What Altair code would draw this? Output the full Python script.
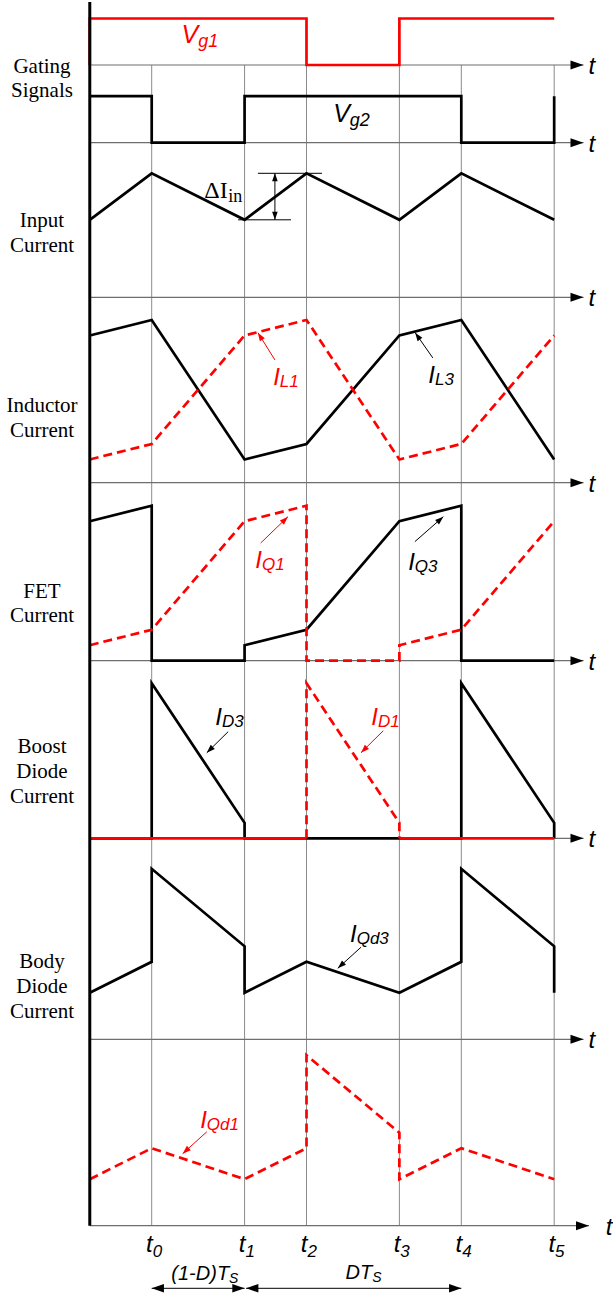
import math
import altair as alt
import pandas as pd

# ---------------- signal data ----------------
# switching instants t0..t5, in units of the switching period Ts
T_SUBS = ["0", "1", "2", "3", "4", "5"]
T_VALS = [0.0, 0.3, 0.5, 0.8, 1.0, 1.3]
T_START = -0.2

# gating signals (0 = off, 1 = on)
vg1_t = [-0.2, -0.2, 0.5, 0.5, 0.8, 0.8, 1.3]
vg1_v = [0, 1, 1, 0, 0, 1, 1]
vg2_t = [-0.2, 0.0, 0.0, 0.3, 0.3, 1.0, 1.0, 1.3, 1.3]
vg2_v = [1, 1, 0, 0, 1, 1, 0, 0, 1]

# input current
iin_t = [-0.2, 0.0, 0.3, 0.5, 0.8, 1.0, 1.3]
iin_v = [5, 8, 5, 8, 5, 8, 5]

# inductor currents
il_t = [-0.2, 0.0, 0.3, 0.5, 0.8, 1.0, 1.3]
il3_v = [9.5, 10.5, 1.5, 2.5, 9.5, 10.5, 1.5]
il1_v = [1.5, 2.5, 9.5, 10.5, 1.5, 2.5, 9.5]

# FET currents
iq3_t = [-0.2, 0.0, 0.0, 0.3, 0.3, 0.5, 0.8, 1.0, 1.0, 1.3]
iq3_v = [9, 10, 0, 0, 1, 2, 9, 10, 0, 0]
iq1_t = [-0.2, 0.0, 0.3, 0.5, 0.5, 0.8, 0.8, 1.0, 1.3]
iq1_v = [1, 2, 9, 10, 0, 0, 1, 2, 9]

# boost diode currents
id3_t = [-0.2, 0.0, 0.0, 0.3, 0.3, 1.0, 1.0, 1.3, 1.3]
id3_v = [0, 0, 10, 1, 0, 0, 10, 1, 0]
id1_t = [-0.2, 0.5, 0.5, 0.8, 0.8, 1.3]
id1_v = [0, 0, 10, 1, 0, 0]

# body diode currents
iqd3_t = [-0.2, 0.0, 0.0, 0.3, 0.3, 0.5, 0.8, 1.0, 1.0, 1.3, 1.3]
iqd3_v = [3, 5, 11, 6, 3, 5, 3, 5, 11, 6, 3]
iqd1_t = [-0.2, 0.0, 0.3, 0.5, 0.5, 0.8, 0.8, 1.0, 1.3]
iqd1_v = [3, 5, 3, 5, 11, 6, 3, 5, 3]

# ---------------- layout ----------------
W, H = 613, 1296
PX_PER_T = 309.6
T0_PX = 151.7
X_DOMAIN = [-T0_PX / PX_PER_T, (W - T0_PX) / PX_PER_T]

# baseline row of every time axis and pixels per signal unit
BASE = {"vg1": 65.0, "vg2": 142.7, "iin": 297.3, "il": 482.7, "iq": 660.7,
        "id": 838.3, "iqd3": 1039.3, "iqd1": 1225.7}
UNIT = {k: 15.5 for k in BASE}
UNIT["vg1"] = 46.5
UNIT["vg2"] = 46.5

RED = "#ff0000"
BLACK = "#000000"
GRID = "#8a8a8a"
SANS = "Liberation Sans"
SERIF = "Liberation Serif"
ARROW = "M0,0L-0.7,2L0.7,2Z"


def row(panel, v):
    return BASE[panel] - v * UNIT[panel]


xs = alt.Scale(domain=X_DOMAIN, nice=False, zero=False)
ys = alt.Scale(domain=[0, H], reverse=True, nice=False, zero=False)


def X(f="t"):
    return alt.X(f"{f}:Q", scale=xs, axis=None)


def Y(f="row"):
    return alt.Y(f"{f}:Q", scale=ys, axis=None)


# ---------------- waveforms ----------------
line_pts = []


def add_trace(name, panel, ts, vs, style):
    for i, (t, v) in enumerate(zip(ts, vs)):
        line_pts.append(dict(series=name, i=i, t=t, row=row(panel, v), style=style))


add_trace("vg1", "vg1", vg1_t, vg1_v, "red")
add_trace("vg2", "vg2", vg2_t, vg2_v, "black")
add_trace("iin", "iin", iin_t, iin_v, "black")
add_trace("il3", "il", il_t, il3_v, "black")
add_trace("il1", "il", il_t, il1_v, "dash")
add_trace("iq3", "iq", iq3_t, iq3_v, "black")
add_trace("iq1", "iq", iq1_t, iq1_v, "dash")
add_trace("id3", "id", id3_t, id3_v, "black")
add_trace("iqd3", "iqd3", iqd3_t, iqd3_v, "black")
add_trace("iqd1", "iqd1", iqd1_t, iqd1_v, "dash")

# D1 current: zero stretches solid, conduction interval dashed
runs = []
for k in range(len(id1_t) - 1):
    flat = id1_v[k] == 0 and id1_v[k + 1] == 0
    kind = "red" if flat else "dash"
    if runs and runs[-1][0] == kind:
        runs[-1][1].append(k + 1)
    else:
        runs.append([kind, [k, k + 1]])
for n, (kind, idx) in enumerate(runs):
    add_trace(f"id1_{n}", "id", [id1_t[j] for j in idx], [id1_v[j] for j in idx], kind)

lines = pd.DataFrame(line_pts)


def line_layer(style, color, dash=None):
    kw = dict(color=color, strokeWidth=2.7, strokeJoin="miter", strokeCap="butt")
    if dash:
        kw["strokeDash"] = dash
    return alt.Chart(lines[lines["style"] == style]).mark_line(**kw).encode(
        x=X(), y=Y(), detail="series:N", order="i:Q")


# ---------------- axes and grid ----------------
last_row = BASE["iqd1"]
grid = pd.DataFrame({"t": T_VALS, "row": [BASE["vg1"]] * 6, "row2": [last_row] * 6})

axis_keys = list(BASE.keys())
tip_t = [1.3947] * (len(axis_keys) - 1) + [1.4125]
axes = pd.DataFrame({"t": [T_START] * len(axis_keys), "t2": tip_t,
                     "row": [BASE[k] for k in axis_keys]})
axis_t_lbl = pd.DataFrame({"t": [1.422] * (len(axis_keys) - 1) + [1.477],
                           "row": [BASE[k] + 2 for k in axis_keys],
                           "text": ["t"] * len(axis_keys)})
spine = pd.DataFrame({"t": [T_START], "row": [2.0], "row2": [last_row]})

# ---------------- pointers and dimension arrows ----------------
pointers = [
    ("il", 0.398, 7.92, 0.343, 9.68, RED),
    ("il", 0.908, 8.05, 0.851, 9.68, BLACK),
    ("iq", 0.352, 7.59, 0.440, 9.29, RED),
    ("iq", 0.850, 7.68, 0.942, 9.29, BLACK),
    ("id", 0.247, 6.88, 0.178, 5.52, BLACK),
    ("id", 0.748, 6.94, 0.676, 5.52, RED),
    ("iqd3", 0.676, 5.94, 0.601, 4.58, BLACK),
    ("iqd1", 0.178, 6.06, 0.100, 4.65, RED),
]
thin = []
heads = []


def head_angle(t_from, r_from, t_to, r_to):
    dx = (t_to - t_from) * PX_PER_T
    dy = r_to - r_from
    return math.degrees(math.atan2(dx, -dy)) % 360


for p, tf, lf, tt, lt, c in pointers:
    rf, rt = row(p, lf), row(p, lt)
    thin.append(dict(t=tf, row=rf, t2=tt, row2=rt, color=c))
    heads.append(dict(t=tt, row=rt, angle=head_angle(tf, rf, tt, rt), size=70, color=c))

# delta-I marker on the input current
top_r, bot_r = row("iin", 8), row("iin", 5)
thin.append(dict(t=0.343, row=top_r, t2=0.550, row2=top_r, color=BLACK))
thin.append(dict(t=0.279, row=bot_r, t2=0.450, row2=bot_r, color=BLACK))
thin.append(dict(t=0.398, row=top_r, t2=0.398, row2=bot_r, color=BLACK))
heads.append(dict(t=0.398, row=top_r, angle=0, size=64, color=BLACK))
heads.append(dict(t=0.398, row=bot_r, angle=180, size=64, color=BLACK))

# (1-D)Ts and DTs spans
dim_r = last_row + 62.6
t1b = 0.305
thin.append(dict(t=T_VALS[0], row=dim_r, t2=T_VALS[1], row2=dim_r, color=BLACK))
thin.append(dict(t=t1b, row=dim_r, t2=T_VALS[4], row2=dim_r, color=BLACK))
for tt, ang in [(T_VALS[0], 270), (T_VALS[1], 90), (t1b, 270), (T_VALS[4], 90)]:
    heads.append(dict(t=tt, row=dim_r, angle=ang, size=150, color=BLACK))

# axis arrowheads
for k, tt in zip(axis_keys, tip_t):
    heads.append(dict(t=tt, row=BASE[k], angle=90, size=169, color=BLACK))

thin_df = pd.DataFrame(thin)
heads_df = pd.DataFrame(heads)

# ---------------- labels ----------------
main_lbl, sub_lbl = [], []


def add_label(t, r, main, sub, ms, ss, drop, color):
    main_lbl.append(dict(t=t, row=r, text=main, size=ms, color=color))
    sub_lbl.append(dict(t=t, row=r + drop, text=sub, size=ss, color=color))


add_label(0.150, row("vg1", 0.467), "V", "g1", 25, 18, 4, RED)
add_label(0.640, row("vg2", 0.452), "V", "g2", 25, 18, 4, BLACK)
add_label(0.414, row("il", 6.30), "I", "L1", 24, 17, 2, RED)
add_label(0.915, row("il", 6.43), "I", "L3", 24, 17, 2, BLACK)
add_label(0.356, row("iq", 5.98), "I", "Q1", 24, 17, 2, RED)
add_label(0.850, row("iq", 5.85), "I", "Q3", 24, 17, 2, BLACK)
add_label(0.227, row("id", 7.31), "I", "D3", 24, 17, 2, BLACK)
add_label(0.731, row("id", 7.31), "I", "D1", 24, 17, 2, RED)
add_label(0.662, row("iqd3", 6.30), "I", "Qd3", 24, 17, 2, BLACK)
add_label(0.178, row("iqd1", 6.28), "I", "Qd1", 24, 17, 2, RED)
for sub, tv in zip(T_SUBS, T_VALS):
    add_label(tv + 0.003, last_row + 26.3, "t", sub, 24, 17, 5, BLACK)
add_label(0.250, last_row + 54.3, "(1-D)T", "S", 20, 14, 3, BLACK)
add_label(0.712, last_row + 53.5, "DT", "S", 20, 14, 3, BLACK)

main_df = pd.DataFrame(main_lbl)
sub_df = pd.DataFrame(sub_lbl)

# trace names down the left side (serif)
LEFT_T = (42 - T0_PX) / PX_PER_T
side_text = ["Gating", "Signals", "Input", "Current", "Inductor", "Current",
             "FET", "Current", "Boost", "Diode", "Current", "Body", "Diode", "Current"]
side_rows = [72.5, 97.0, 226.7, 251.7, 411.7, 436.7, 597.7, 621.7,
             752.7, 778.3, 803.3, 968.3, 993.3, 1018.3]
side_df = pd.DataFrame({"t": [LEFT_T] * len(side_text), "row": side_rows, "text": side_text})

din_main = pd.DataFrame({"t": [0.2455], "row": [row("iin", 6.41)], "text": ["\u0394I"]})
din_sub = pd.DataFrame({"t": [0.2475], "row": [row("iin", 6.41) + 4], "text": ["in"]})

# ---------------- layers ----------------
grid_layer = alt.Chart(grid).mark_rule(color=GRID, strokeWidth=1).encode(
    x=X(), y=Y(), y2="row2:Q")
axes_layer = alt.Chart(axes).mark_rule(color="#6e6e6e", strokeWidth=1.2).encode(
    x=X(), x2="t2:Q", y=Y())
spine_layer = alt.Chart(spine).mark_rule(color=BLACK, strokeWidth=3).encode(
    x=X(), y=Y(), y2="row2:Q")
thin_layer = alt.Chart(thin_df).mark_rule(strokeWidth=1).encode(
    x=X(), x2="t2:Q", y=Y(), y2="row2:Q", color=alt.Color("color:N", scale=None))
heads_layer = alt.Chart(heads_df).mark_point(
    shape=ARROW, filled=True, opacity=1, strokeWidth=0).encode(
    x=X(), y=Y(), angle=alt.Angle("angle:Q", scale=None),
    size=alt.Size("size:Q", scale=None), color=alt.Color("color:N", scale=None))

main_text = alt.Chart(main_df).mark_text(
    align="right", baseline="alphabetic", font=SANS, fontStyle="italic").encode(
    x=X(), y=Y(), text="text:N", size=alt.Size("size:Q", scale=None),
    color=alt.Color("color:N", scale=None))
sub_text = alt.Chart(sub_df).mark_text(
    align="left", baseline="alphabetic", font=SANS, fontStyle="italic").encode(
    x=X(), y=Y(), text="text:N", size=alt.Size("size:Q", scale=None),
    color=alt.Color("color:N", scale=None))
axis_text = alt.Chart(axis_t_lbl).mark_text(
    align="center", baseline="middle", font=SANS, fontStyle="italic",
    fontSize=24, color=BLACK).encode(x=X(), y=Y(), text="text:N")
side_layer = alt.Chart(side_df).mark_text(
    align="center", baseline="alphabetic", font=SERIF, fontSize=21, color=BLACK).encode(
    x=X(), y=Y(), text="text:N")
din_main_layer = alt.Chart(din_main).mark_text(
    align="right", baseline="alphabetic", font=SERIF, fontSize=24, color=BLACK).encode(
    x=X(), y=Y(), text="text:N")
din_sub_layer = alt.Chart(din_sub).mark_text(
    align="left", baseline="alphabetic", font=SERIF, fontSize=18, color=BLACK).encode(
    x=X(), y=Y(), text="text:N")

chart = alt.layer(
    grid_layer, axes_layer,
    line_layer("black", BLACK),
    line_layer("red", RED),
    line_layer("dash", RED, [9, 5]),
    spine_layer, thin_layer, heads_layer,
    main_text, sub_text, axis_text, side_layer, din_main_layer, din_sub_layer,
).properties(
    width=W, height=H, padding=0,
    autosize=alt.AutoSizeParams(type="none"),
    background="white",
).configure_view(stroke=None)

chart.save("out.html", embed_options={"renderer": "svg", "actions": False})
